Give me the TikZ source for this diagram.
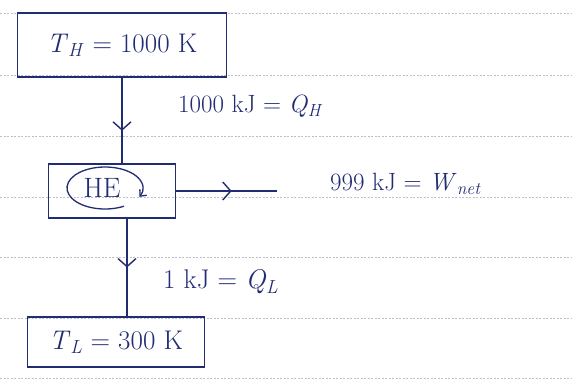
\documentclass[tikz,border=0pt]{standalone}
\usepackage{fontspec}
\usetikzlibrary{arrows.meta,decorations.markings,calc}
\definecolor{ink}{RGB}{34,44,115}
\definecolor{rule}{RGB}{190,190,195}
\newcommand{\qv}[2]{\textit{#1}\textsubscript{\textit{#2}}}
\tikzset{
  inkline/.style={draw=ink, line width=1.6pt},
  boxnode/.style={inkline, rectangle, inner sep=0pt, text=ink},
  lbl/.style={text=ink, anchor=west, inner sep=0pt, font=\fontsize{25}{30}\selectfont},
  midarrow/.style={postaction={decorate}, decoration={markings,
     mark=at position #1 with {\arrow[ink, line width=1.4pt]{Straight Barb[length=8pt,width=18pt]}}}},
  ruling/.style={draw=rule, line width=0.6pt, dash pattern=on 2pt off 1.5pt}
}
\begin{document}
\begin{tikzpicture}[x=1pt, y=-1pt]
\useasboundingbox (0,0) rectangle (572,381);
\fill[white] (0,0) rectangle (572,381);
% notebook ruling
\foreach \yy in {13,75,136,197,257,318,378}
  \draw[ruling] (0,\yy) -- (572,\yy);
% boxes
\node[boxnode, minimum width=209pt, minimum height=64pt, font=\fontsize{27}{32}\selectfont] (top) at (122,45) {\qv{T}{H} = 1000 K};
\node[boxnode, minimum width=127pt, minimum height=54pt] (he) at (112,191) {};
\node[text=ink, font=\fontsize{28}{32}\selectfont] (helbl) at (102,188) {HE};
\draw[inkline, line width=1.3pt, -{Straight Barb[length=5pt,width=9pt]}] (105,188) ++(60:38 and 21) arc[start angle=60, end angle=385, x radius=38, y radius=21];
\node[boxnode, minimum width=177pt, minimum height=50pt, font=\fontsize{27}{32}\selectfont] (bot) at (116,342) {\qv{T}{L} = 300 K};
% connectors
\coordinate (wout) at (277,191);
\coordinate (heout) at ($(he.south)+(15,0)$);
\draw[inkline, midarrow=0.62] (top.south) -- (top.south |- he.north);
\draw[inkline, midarrow=0.55] (he.east) -- (wout);
\draw[inkline, midarrow=0.50] (heout) -- (heout |- bot.north);
% labels
\node[lbl] (qh) at (178,106) {1000 kJ = \qv{Q}{H}};
\node[lbl] (wnet) at (330,184) {999 kJ = \qv{W}{net}};
\node[lbl, font=\fontsize{27}{32}\selectfont] (ql) at (163,282) {1 kJ = \qv{Q}{L}};
\end{tikzpicture}
\end{document}
